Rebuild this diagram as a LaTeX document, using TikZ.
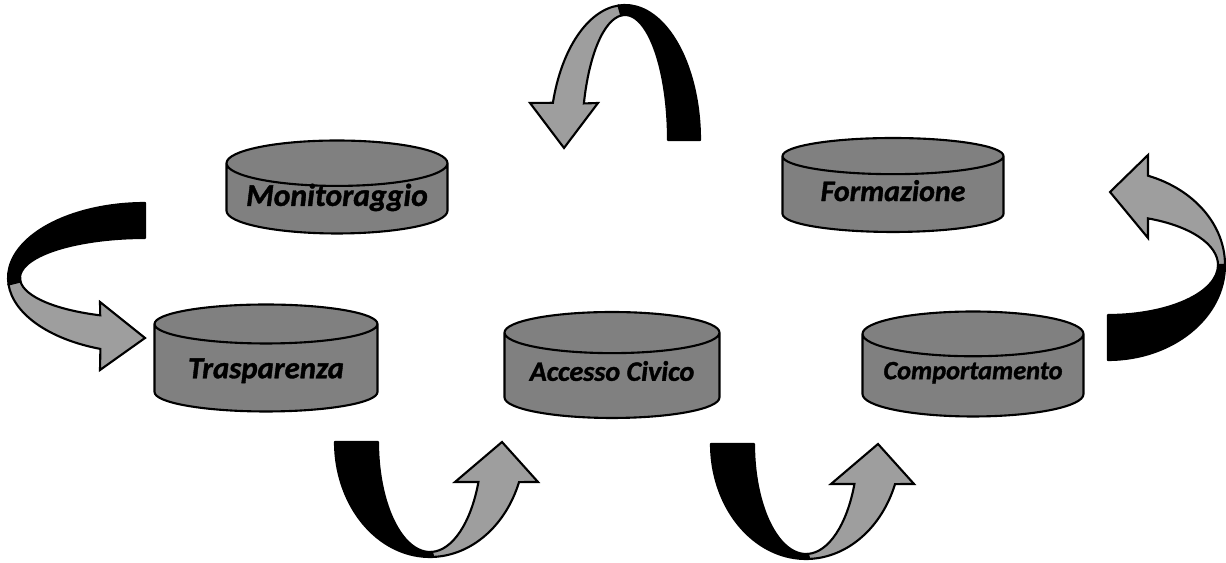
\documentclass[tikz,border=0pt]{standalone}
\usepackage{fontspec}
\setmainfont{Carlito}[BoldItalicFeatures={FakeBold=1.2}]
\usetikzlibrary{shapes.geometric}

\begin{document}
\begin{tikzpicture}[
  x=0.02cm, y=0.02cm,
  drum/.style={
    cylinder,
    shape border rotate=90,
    shape aspect=0.25,
    anchor=shape center,
    draw,
    line width=1.2pt,
    fill=black!50,
    minimum width=4.42cm,
    minimum height=1.9cm,
    inner sep=0pt,
    text height=0pt,
    text depth=0pt,
    font=\bfseries\itshape
  },
  ribbon top/.style={fill=black, draw=black, line width=1.2pt, line join=round},
  ribbon under/.style={fill=black!38, draw=black, line width=1.2pt, line join=miter}
]
\useasboundingbox (0,0) rectangle (1226,563);

% cylinders
\node[drum, minimum height=1.86cm, font=\bfseries\itshape\fontsize{18}{20}\selectfont] (monit) at (337,376)
  {\raisebox{-0.14cm}[0pt][0pt]{Monitoraggio}};
\node[drum, minimum height=1.88cm, font=\bfseries\itshape\fontsize{17}{20}\selectfont] (form) at (893,378)
  {\raisebox{-0.13cm}[0pt][0pt]{Formazione}};
\node[drum, minimum width=4.46cm, minimum height=2.14cm, font=\bfseries\itshape\fontsize{17.5}{20}\selectfont] (trasp) at (266,205)
  {\raisebox{-0.2cm}[0pt][0pt]{Trasparenza}};
\node[drum, minimum width=4.3cm, minimum height=2.12cm, font=\bfseries\itshape\fontsize{16}{20}\selectfont] (accesso) at (612,198)
  {\raisebox{-0.1cm}[0pt][0pt]{Accesso Civico}};
\node[drum, minimum width=4.42cm, minimum height=2.1cm, font=\bfseries\itshape\fontsize{15}{20}\selectfont] (comport) at (973,199)
  {\raisebox{-0.07cm}[0pt][0pt]{Comportamento}};

% left U-turn arrow
\begin{scope}[shift={(145,285)}]
  \filldraw[ribbon top] (90:137 and 75) arc[start angle=90, end angle=185, x radius=137, y radius=75]
    -- (185:125 and 40) arc[start angle=185, end angle=90, x radius=125, y radius=40] -- cycle;
  \filldraw[ribbon under] (185:137 and 75) arc[start angle=185, end angle=251, x radius=137, y radius=75]
    -- (-45,-92) -- (0,-60) -- (-45,-24) -- (249:125 and 40)
    arc[start angle=249, end angle=185, x radius=125, y radius=40] -- cycle;
\end{scope}

% top U-turn arrow
\begin{scope}[shift={(625,423)}]
  \filldraw[ribbon top] (0:75 and 135) arc[start angle=0, end angle=95, x radius=75, y radius=135]
    -- (95:43 and 125) arc[start angle=95, end angle=0, x radius=43, y radius=125] -- cycle;
  \filldraw[ribbon under] (95:75 and 135) arc[start angle=95, end angle=164, x radius=75, y radius=135]
    -- (-95,37) -- (-61,-8) -- (-27,37) -- (163:43 and 125)
    arc[start angle=163, end angle=95, x radius=43, y radius=125] -- cycle;
\end{scope}

% bottom U-turn arrows
\foreach \cx/\cy in {430/121, 806/119}{
  \begin{scope}[shift={(\cx,\cy)}]
    \filldraw[ribbon top] (180:95 and 115) arc[start angle=180, end angle=272, x radius=95, y radius=115]
      -- (272:52 and 110) arc[start angle=272, end angle=180, x radius=52, y radius=110] -- cycle;
    \filldraw[ribbon under] (272:95 and 115) arc[start angle=272, end angle=339.6, x radius=95, y radius=115]
      -- (108,-40) -- (72,0) -- (25,-40) -- (338.7:52 and 110)
      arc[start angle=338.7, end angle=272, x radius=52, y radius=110] -- cycle;
  \end{scope}
}

% right U-turn arrow
\begin{scope}[shift={(1108,298)}]
  \filldraw[ribbon top] (270:117 and 95) arc[start angle=270, end angle=360, x radius=117, y radius=95]
    -- (0:110 and 50) arc[start angle=360, end angle=270, x radius=110, y radius=50] -- cycle;
  \filldraw[ribbon under] (0:117 and 95) arc[start angle=0, end angle=70, x radius=117, y radius=95]
    -- (40,110) -- (2,73) -- (40,27) -- (68.7:110 and 50)
    arc[start angle=68.7, end angle=0, x radius=110, y radius=50] -- cycle;
\end{scope}
\end{tikzpicture}
\end{document}
